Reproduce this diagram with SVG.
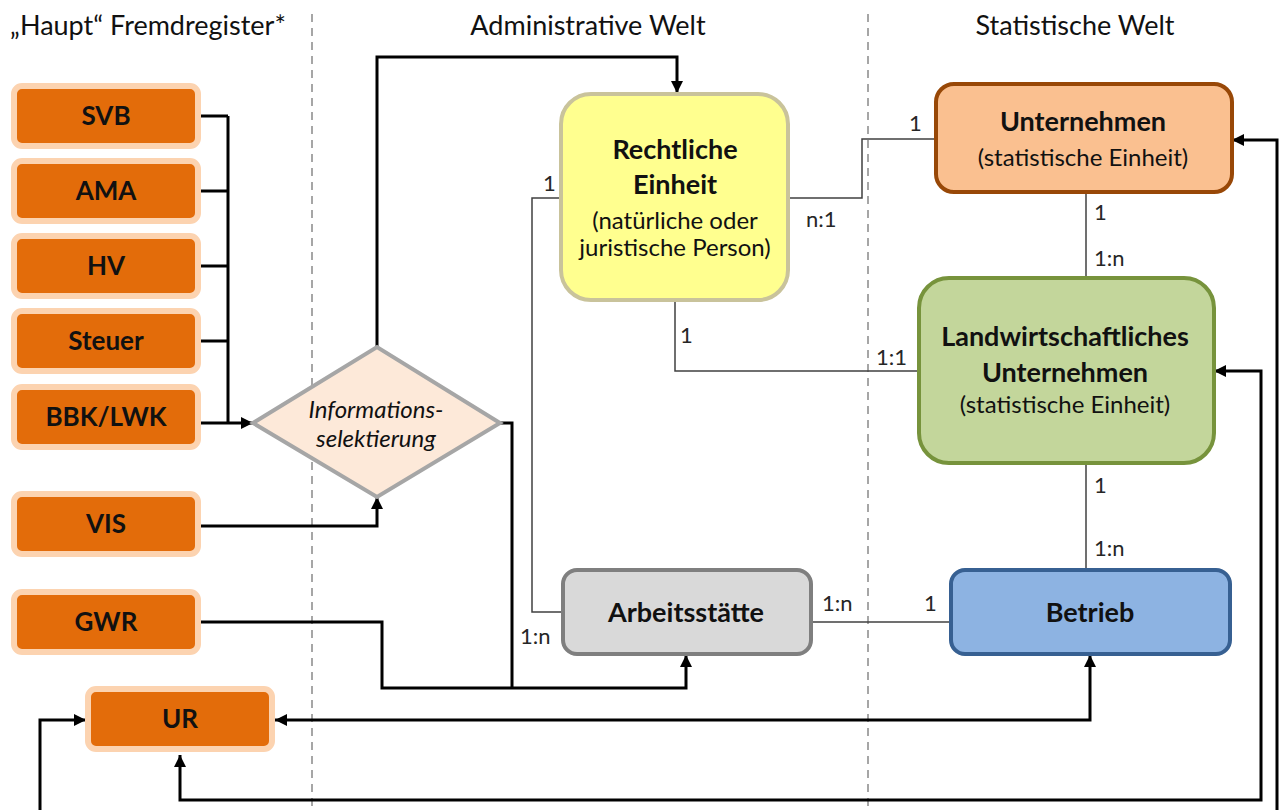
<svg xmlns="http://www.w3.org/2000/svg" width="1279" height="810" viewBox="0 0 1279 810">
<defs>
<style>
text{font-family:Lato,"Open Sans","Liberation Sans",sans-serif;fill:#111}
.hdr{font-size:27px}
.src rect{fill:#E36C0A;stroke:#FCD3B0;stroke-width:6}
.src text{font-size:26px;font-weight:bold;text-anchor:middle}
.b{font-weight:bold;font-size:27px;text-anchor:middle}
.s{font-size:24px;text-anchor:middle}
.lbl{font-size:22px;fill:#262626}
.thick{fill:none;stroke:#000;stroke-width:3}
.thin{fill:none;stroke:#404040;stroke-width:1.5}
.dash{stroke:#A6A6A6;stroke-width:2;stroke-dasharray:8 6}
</style>
<marker id="ah" viewBox="0 0 10 10" refX="10" refY="5" markerWidth="12" markerHeight="12" markerUnits="userSpaceOnUse" orient="auto-start-reverse">
<path d="M0,0 L10,5 L0,10 z" fill="#000"/>
</marker>
</defs>
<rect width="1279" height="810" fill="#fff"/>

<g id="dividers">
<line class="dash" x1="312" y1="14" x2="312" y2="810"/>
<line class="dash" x1="868" y1="14" x2="868" y2="810"/>
</g>
<g id="headers">
<text class="hdr" x="10" y="35">„Haupt“ Fremdregister*</text>
<text class="hdr" x="588" y="35" text-anchor="middle">Administrative Welt</text>
<text class="hdr" x="1075" y="35" text-anchor="middle">Statistische Welt</text>
</g>

<g id="connectors">
<path class="thick" d="M200,116 H228 M200,191 H228 M200,266 H228 M200,341 H228 M228,116 V423"/>
<path class="thick" d="M200,423 H253" marker-end="url(#ah)"/>
<path class="thick" d="M200,526 H377 V497" marker-end="url(#ah)"/>
<path class="thick" d="M377,347 V57 H677 V93" marker-end="url(#ah)"/>
<path class="thick" d="M500,423 H512 V688"/>
<path class="thick" d="M200,622 H382 V688 H686 V655" marker-end="url(#ah)"/>
<path class="thick" d="M275,720 H1090 V655" marker-start="url(#ah)" marker-end="url(#ah)"/>
<path class="thick" d="M180,755 V800 H1261 V371 H1214" marker-start="url(#ah)" marker-end="url(#ah)"/>
<path class="thick" d="M86,720 H40 V840 H1277 V140 H1232" marker-start="url(#ah)" marker-end="url(#ah)"/>
<path class="thin" d="M561,198 H532 V612 H562"/>
<path class="thin" d="M788,198 H862 V139 H935"/>
<path class="thin" d="M675,300 V371 H918"/>
<path class="thin" d="M1086,193 V277"/>
<path class="thin" d="M1086,463 V568"/>
<path class="thin" d="M812,622 H950"/>
<text class="lbl" x="543" y="191">1</text>
<text class="lbl" x="520" y="644">1:n</text>
<text class="lbl" x="806" y="227">n:1</text>
<text class="lbl" x="909" y="131">1</text>
<text class="lbl" x="680" y="343">1</text>
<text class="lbl" x="876" y="365">1:1</text>
<text class="lbl" x="1094" y="220">1</text>
<text class="lbl" x="1094" y="266">1:n</text>
<text class="lbl" x="1094" y="493">1</text>
<text class="lbl" x="1094" y="556">1:n</text>
<text class="lbl" x="822" y="611">1:n</text>
<text class="lbl" x="924" y="611">1</text>
</g>

<g id="svb" class="src"><rect x="14" y="86" width="184" height="60" rx="8"/><text x="106" y="125">SVB</text></g>
<g id="ama" class="src"><rect x="14" y="161" width="184" height="60" rx="8"/><text x="106" y="200">AMA</text></g>
<g id="hv" class="src"><rect x="14" y="236" width="184" height="60" rx="8"/><text x="106" y="275">HV</text></g>
<g id="steuer" class="src"><rect x="14" y="311" width="184" height="60" rx="8"/><text x="106" y="350">Steuer</text></g>
<g id="bbk" class="src"><rect x="14" y="387" width="184" height="60" rx="8"/><text x="106" y="426">BBK/LWK</text></g>
<g id="vis" class="src"><rect x="14" y="494" width="184" height="60" rx="8"/><text x="106" y="533">VIS</text></g>
<g id="gwr" class="src"><rect x="14" y="592" width="184" height="60" rx="8"/><text x="106" y="631">GWR</text></g>
<g id="ur" class="src"><rect x="88" y="689" width="184" height="60" rx="8"/><text x="180" y="728">UR</text></g>

<g id="selektierung">
<polygon points="253,423 377,347 500,423 377,497" fill="#FDE9D9" stroke="#A6A6A6" stroke-width="4"/>
<text x="376" y="418" font-size="24" font-style="italic" text-anchor="middle">Informations-</text>
<text x="376" y="447" font-size="24" font-style="italic" text-anchor="middle">selektierung</text>
</g>

<g id="rechtliche">
<rect x="561" y="94" width="227" height="206" rx="30" fill="#FFFF8F" stroke="#C9C39B" stroke-width="4"/>
<text class="b" x="675" y="159">Rechtliche</text>
<text class="b" x="675" y="194">Einheit</text>
<text class="s" x="675" y="229">(natürliche oder</text>
<text class="s" x="675" y="256">juristische Person)</text>
</g>

<g id="unternehmen">
<rect x="936" y="84" width="296" height="108" rx="18" fill="#FAC090" stroke="#984807" stroke-width="4"/>
<text class="b" x="1083" y="131">Unternehmen</text>
<text class="s" x="1083" y="166">(statistische Einheit)</text>
</g>

<g id="landwirtschaft">
<rect x="919" y="278" width="295" height="185" rx="30" fill="#C3D69B" stroke="#77933C" stroke-width="4"/>
<text class="b" x="1065" y="346">Landwirtschaftliches</text>
<text class="b" x="1065" y="382">Unternehmen</text>
<text class="s" x="1065" y="413">(statistische Einheit)</text>
</g>

<g id="arbeitsstaette">
<rect x="563" y="570" width="248" height="84" rx="14" fill="#D9D9D9" stroke="#7F7F7F" stroke-width="4"/>
<text class="b" x="686" y="622">Arbeitsstätte</text>
</g>

<g id="betrieb">
<rect x="951" y="570" width="279" height="84" rx="14" fill="#8DB3E2" stroke="#376092" stroke-width="4"/>
<text class="b" x="1090" y="622">Betrieb</text>
</g>
</svg>
